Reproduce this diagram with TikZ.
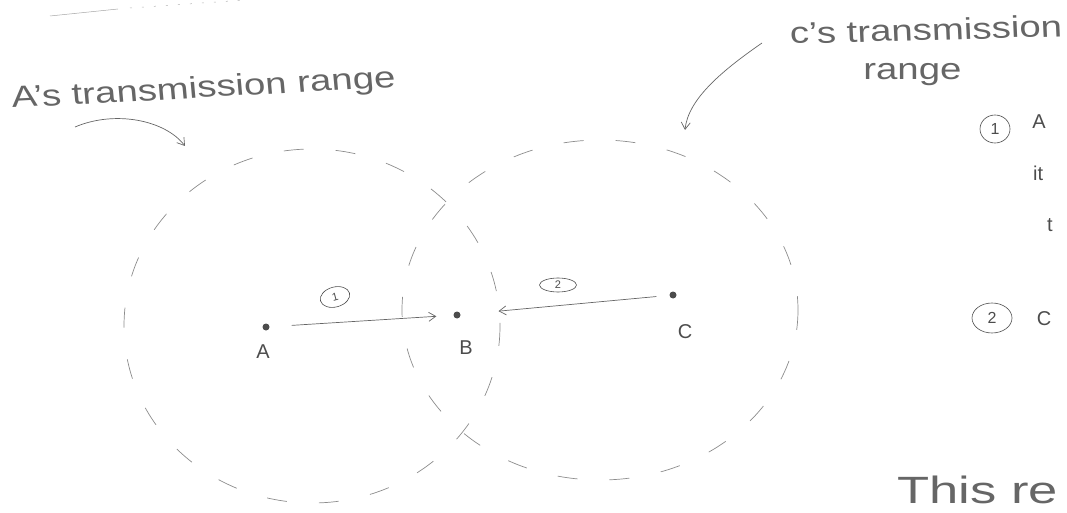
\documentclass[tikz,border=0pt]{standalone}
\usepackage{fontspec}
\setmainfont{Liberation Sans}
\usetikzlibrary{arrows.meta,shapes.geometric}
\begin{document}
\begin{tikzpicture}[x=1pt,y=-1pt,
  pencil/.style={draw=black!60, line width=0.7pt},
  rangecircle/.style={draw=black!45, line width=0.7pt, dash pattern=on 20pt off 32pt},
  dot/.style={circle, fill=black!70, inner sep=0pt, minimum size=7pt},
  lbl/.style={text=black!70, font=\fontsize{20}{24}\selectfont, inner sep=0pt},
  hand/.style={text=black!60, font=\fontsize{30}{36}\selectfont, xscale=1.28, inner sep=0pt},
  num/.style={ellipse, draw=black!70, line width=0.6pt, inner sep=0pt, text=black!70, font=\fontsize{11}{13}\selectfont},
  tipped/.style={-{Straight Barb[length=7pt,width=9pt]}}
]
\useasboundingbox (0,0) rectangle (1067,513);
\clip (0,0) rectangle (1067,513);

% faint cut-off stroke at the top left
\coordinate (s1) at (50,16);
\coordinate (s2) at (118,9);
\coordinate (s3) at (130,8);
\coordinate (s4) at (245,0);
\draw[black!35, line width=0.5pt] (s1) -- (s2);
\draw[black!30, line width=0.5pt, dash pattern=on 2pt off 10pt] (s3) -- (s4);

% transmission ranges
\draw[rangecircle] (312,326) ellipse [x radius=188, y radius=177];
\draw[rangecircle] (600,310) ellipse [x radius=198, y radius=170];

% stations
\node[dot] (A) at (266,327) {};
\node[dot] (B) at (457,315) {};
\node[dot] (C) at (673,295) {};
\node[lbl] (Alab) at (263,352) {A};
\node[lbl] (Blab) at (466,348) {B};
\node[lbl] (Clab) at (685,332) {C};

% transmissions
\draw[pencil, tipped, shorten <=22pt, shorten >=17pt] (A) -- (B);
\draw[pencil, tipped, shorten <=13pt, shorten >=38pt] (C) -- (B);
\node[num, minimum width=30pt, minimum height=20pt, rotate=15] (n1) at (335,297) {1};
\node[num, minimum width=37pt, minimum height=14pt] (n2) at (558,285) {2};

% range labels
\node[hand, rotate=4, anchor=base west] (Arange) at (12,108) {A's transmission range};
\coordinate (pa) at (75,127);
\draw[pencil, tipped] (pa) .. controls (115,110) and (165,120) .. (185,146);

\node[hand, rotate=2, anchor=base west] (Crange1) at (790,44) {c's transmission};
\node[hand, anchor=base west] (Crange2) at (863,80) {range};
\coordinate (pc) at (762,43);
\draw[pencil, tipped] (pc) .. controls (720,72) and (688,100) .. (685,130);

% notes on the right (cut off)
\node[num, minimum width=30pt, minimum height=28pt, font=\fontsize{16}{18}\selectfont] (r1) at (995,129) {1};
\node[lbl] (rA) at (1039,122) {A};
\node[lbl, anchor=west] (rit) at (1033,173) {it};
\node[lbl, anchor=west] (rt) at (1047,225) {t};
\node[num, minimum width=40pt, minimum height=30pt, font=\fontsize{16}{18}\selectfont] (r2) at (992,318) {2};
\node[lbl] (rC) at (1044,319) {C};
\node[hand, font=\fontsize{38}{44}\selectfont, xscale=1.08, anchor=base west] (this) at (897,503) {This re};
\end{tikzpicture}
\end{document}
